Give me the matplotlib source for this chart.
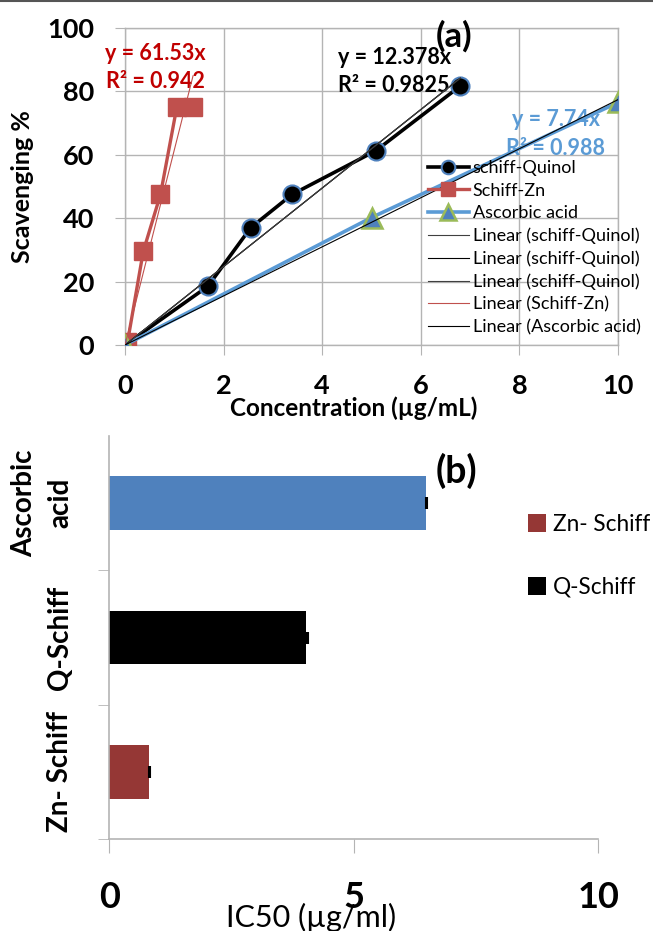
import matplotlib
matplotlib.use("Agg")
import matplotlib.pyplot as plt
import numpy as np
from matplotlib.lines import Line2D

plt.rcParams["font.family"] = ["Lato", "DejaVu Sans"]

# (a) scavenging % against concentration (ug/mL)
quinol_conc = [0.0, 1.68, 2.55, 3.39, 5.09, 6.80]
quinol_scav = [0.0, 18.5, 37.0, 47.5, 61.3, 81.7]
zn_conc = [0.05, 0.37, 0.72, 1.05, 1.38]
zn_scav = [0.8, 29.5, 47.5, 75.0, 75.0]
asc_conc = [0.0, 5.0, 10.0]
asc_scav = [0.0, 40.2, 76.5]

# fitted trend lines (through origin) as printed on the chart
quinol_slope, quinol_r2 = 12.378, 0.9825
zn_slope, zn_r2 = 61.53, 0.942
asc_slope, asc_r2 = 7.74, 0.988

# (b) IC50 (ug/ml)
ic50_names = ["Zn- Schiff", "Q-Schiff", "Ascorbic\nacid"]
ic50_values = [0.81, 4.02, 6.47]
ic50_err = [0.03, 0.04, 0.02]

GRID = "#B4B4B4"
BLUE = "#5B9BD5"
RED = "#C0504D"

fig = plt.figure(figsize=(6.53, 9.31), dpi=100)
W, H = 653.0, 931.0

# ---------------- panel (a) ----------------
ax = fig.add_axes([125 / W, 1 - 345 / H, 493 / W, 317 / H])
ax.set_xlim(0, 10)
ax.set_ylim(0, 100)
ax.set_xticks(np.arange(0, 11, 2))
ax.set_yticks(np.arange(0, 101, 20))
ax.grid(True, color=GRID, linewidth=1.0)
ax.set_axisbelow(True)
for s in ax.spines.values():
    s.set_color(GRID)
    s.set_linewidth(1.0)
ax.tick_params(axis="both", direction="out", length=7, color=GRID, labelsize=19.5)
ax.tick_params(axis="x", pad=14)
ax.tick_params(axis="y", pad=15)
for lab in ax.get_xticklabels() + ax.get_yticklabels():
    lab.set_fontweight("bold")

ax.plot(quinol_conc, quinol_scav, color="black", linewidth=2.6, marker="o", markersize=13,
        markerfacecolor="black", markeredgecolor="#4F81BD", markeredgewidth=1.5, zorder=3,
        label="schiff-Quinol")
ax.plot(zn_conc, zn_scav, color=RED, linewidth=2.4, marker="s", markersize=13,
        markerfacecolor=RED, markeredgecolor=RED, zorder=3, label="Schiff-Zn")
ax.plot(asc_conc, asc_scav, color=BLUE, linewidth=2.6, marker="^", markersize=15,
        markerfacecolor="#4F81BD", markeredgecolor="#9BBB59", markeredgewidth=1.8, zorder=3,
        label="Ascorbic acid")

trend_specs = [
    (quinol_conc, quinol_slope, "#404040", "Linear (schiff-Quinol)"),
    (quinol_conc, quinol_slope, "black", "Linear (schiff-Quinol)"),
    (quinol_conc, quinol_slope, "#404040", "Linear (schiff-Quinol)"),
    (zn_conc, zn_slope, RED, "Linear (Schiff-Zn)"),
    (asc_conc, asc_slope, "black", "Linear (Ascorbic acid)"),
]
for xs, slope, col, lab in trend_specs:
    xt = np.array([0.0, max(xs)])
    ax.plot(xt, slope * xt, color=col, linewidth=0.8, zorder=4, label=lab)

ax.legend(loc="upper left", bbox_to_anchor=(428 / W, 1 - 160 / H), bbox_transform=fig.transFigure,
          frameon=False, fontsize=13, handlelength=2.25, handletextpad=0.22, labelspacing=0.36,
          borderpad=0, borderaxespad=0, numpoints=1, markerscale=0.75)

ax.text(0.61, 87.5, f"y = {zn_slope}x\nR² = {zn_r2}", color="#C00000", fontsize=15.5,
        fontweight="bold", ha="center", va="center", linespacing=1.45)
ax.text(5.46, 86.3, f"y = {quinol_slope}x\nR² = {quinol_r2}", color="black", fontsize=15.5,
        fontweight="bold", ha="center", va="center", linespacing=1.45)
ax.text(8.74, 66.6, f"y = {asc_slope}x\nR² = {asc_r2}", color=BLUE, fontsize=15.5,
        fontweight="bold", ha="center", va="center", linespacing=1.45)

ax.set_xlabel("Concentration (µg/mL)", fontsize=17.5, fontweight="bold", va="center")
ax.xaxis.set_label_coords(0.464, -0.199)
ax.set_ylabel("Scavenging %", fontsize=18, fontweight="bold", va="center")
ax.yaxis.set_label_coords(-0.207, 0.5)

fig.text(454 / W, 1 - 36 / H, "(a)", fontsize=25, fontweight="bold", ha="center", va="center")

# ---------------- panel (b) ----------------
bx = fig.add_axes([109.3 / W, 1 - 839 / H, 489 / W, 403 / H])
bar_colors = ["#953735", "black", "#4F81BD"]
ypos = np.arange(len(ic50_names))
for i in range(len(ic50_names)):
    bx.barh(ypos[i], ic50_values[i], height=0.4, color=bar_colors[i],
            xerr=[[0], [ic50_err[i]]], error_kw=dict(ecolor="black", elinewidth=1.5, capsize=4, capthick=1.5),
            label=ic50_names[i], zorder=2)
bx.set_xlim(0, 10)
bx.set_ylim(-0.5, 2.5)
bx.set_xticks([0, 5, 10])
bx.set_yticks(ypos)
bx.set_yticklabels(ic50_names, rotation=90, fontsize=20, fontweight="bold", ha="right",
                   va="center", multialignment="center", linespacing=1.5)
bx.set_yticks([-0.5, 0.5, 1.5], minor=True)
bx.tick_params(axis="y", which="major", length=0, pad=26)
bx.tick_params(axis="y", which="minor", length=8, color=GRID, direction="out")
bx.tick_params(axis="x", length=10, color=GRID, direction="out", labelsize=26, pad=20)
for lab in bx.get_xticklabels():
    lab.set_fontweight("bold")
for side in ("top", "right"):
    bx.spines[side].set_visible(False)
for side in ("left", "bottom"):
    bx.spines[side].set_color(GRID)
    bx.spines[side].set_linewidth(1.2)

handles, labels = bx.get_legend_handles_labels()
bx.legend(handles[:2], labels[:2], loc="upper left", bbox_to_anchor=(528 / W, 1 - 514 / H),
          bbox_transform=fig.transFigure, frameon=False, fontsize=16.3, handlelength=0.8,
          handleheight=0.8, handletextpad=0.3, labelspacing=1.85, borderpad=0, borderaxespad=0)

bx.set_xlabel("IC50 (µg/ml)", fontsize=22, va="center")
bx.xaxis.set_label_coords(0.413, -0.195)

fig.text(456 / W, 1 - 471 / H, "(b)", fontsize=27, fontweight="bold", ha="center", va="center")

# thin frame line at the very top of the image
fig.add_artist(Line2D([0, 1], [0.999, 0.999], transform=fig.transFigure, color="#555555", linewidth=1.5))

fig.savefig("out.png", dpi=100)
